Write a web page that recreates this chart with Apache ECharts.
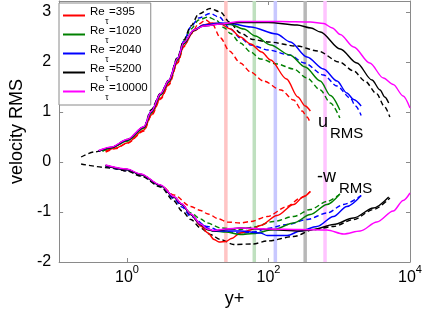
<!DOCTYPE html>
<html><head><meta charset="utf-8">
<script src="https://cdn.jsdelivr.net/npm/echarts@6/dist/echarts.min.js"></script>
<style>html,body{margin:0;padding:0;background:#fff}#c{width:425px;height:323px}</style>
</head><body><div id="c"></div>
<script>
// ---------- data ----------
const reTau = ['395', '1020', '2040', '5200', '10000'];
const lineColors = ['#ff0000', '#008000', '#0000ff', '#000000', '#ff00ff'];
const markColors = ['#ffc4c4', '#bfe0bf', '#c8c8ff', '#b8b8b8', '#ffc4ff'];
const markerYPlus = [25, 63, 125, 330, 630];
const xTickValues = [1, 100, 10000];
const yTickValues = [-2, -1, 0, 1, 2, 3];
const Y_MIN = -2, Y_MAX = 3.22;

// u_RMS, solid
const uSolid395 = [[0.5,0.22],[0.7,0.28],[1.0,0.38],[1.74,0.64],[2.2,0.94],[3.0,1.28],[3.9,1.56],[5.2,2.0],[6.35,2.32],[8.8,2.62],[12,2.74],[16,2.78],[21,2.76],[29,2.66],[40,2.50],[56,2.36],[80,2.20],[107,2.04],[180,1.66],[260,1.30],[330,1.12],[391,1.02]];
const uSolid1020 = [[0.45,0.22],[0.6,0.28],[1.0,0.42],[1.74,0.68],[2.2,0.98],[3.0,1.34],[3.9,1.60],[5.2,2.04],[6.35,2.36],[8.8,2.63],[12,2.73],[21,2.77],[29,2.75],[45,2.66],[65,2.52],[107,2.34],[200,2.14],[330,1.90],[540,1.62],[750,1.33],[1020,1.04]];
const uSolid2040 = [[0.4,0.22],[0.6,0.29],[1.0,0.44],[1.74,0.70],[2.2,1.0],[3.0,1.36],[3.9,1.62],[5.2,2.06],[6.35,2.38],[8.8,2.64],[12,2.74],[21,2.78],[29,2.77],[56,2.70],[130,2.56],[204,2.40],[350,2.10],[600,1.86],[930,1.62],[1280,1.38],[1600,1.25],[2040,1.12]];
const uSolid5200 = [[0.4,0.22],[0.6,0.29],[1.0,0.44],[1.74,0.70],[2.2,1.0],[3.0,1.36],[3.9,1.62],[5.2,2.06],[6.35,2.38],[8.8,2.63],[12,2.72],[21,2.76],[40,2.79],[100,2.79],[254,2.74],[400,2.68],[540,2.60],[1033,2.26],[1774,1.98],[2900,1.64],[3778,1.44],[4400,1.30],[5000,1.18]];
const uSolid10000 = [[0.4,0.23],[0.6,0.30],[1.0,0.45],[1.74,0.71],[2.2,1.01],[3.0,1.37],[3.9,1.63],[5.2,2.07],[6.35,2.39],[8.8,2.64],[12.2,2.72],[21,2.76],[40,2.81],[147,2.81],[391,2.80],[601,2.77],[800,2.68],[1033,2.55],[1600,2.30],[2700,1.98],[4200,1.68],[5800,1.55],[8000,1.32],[10000,1.08]];
// u_RMS, dashed
const uDash395 = [[0.5,0.2],[0.7,0.27],[1.0,0.37],[1.74,0.62],[2.2,0.92],[3.0,1.26],[3.9,1.54],[5.2,1.98],[6.35,2.30],[8.0,2.56],[10.3,2.76],[13,2.84],[16,2.76],[21,2.48],[28,2.22],[40,1.98],[56,1.80],[85,1.62],[150,1.44],[227,1.24],[300,1.02],[350,0.90],[391,0.78]];
const uDash1020 = [[0.45,0.22],[0.6,0.28],[1.0,0.42],[1.74,0.68],[2.2,0.98],[3.0,1.34],[3.9,1.60],[5.2,2.06],[6.35,2.40],[8.0,2.66],[10.3,2.84],[14,2.90],[18,2.84],[24,2.68],[29,2.57],[40,2.38],[56,2.20],[77,2.06],[132,1.96],[227,1.86],[350,1.68],[540,1.44],[750,1.18],[1020,0.88]];
const uDash2040 = [[0.4,0.22],[0.6,0.29],[1.0,0.44],[1.74,0.70],[2.2,1.02],[3.0,1.37],[3.9,1.63],[5.2,2.08],[6.35,2.42],[8.0,2.70],[10.3,2.88],[15,2.97],[20,2.90],[29,2.66],[40,2.48],[56,2.34],[100,2.24],[200,2.14],[320,1.98],[600,1.74],[930,1.52],[1430,1.28],[1700,1.12],[2040,0.93]];
const uDash5200 = [[0.225,0.10],[0.343,0.2],[0.6,0.29],[1.0,0.45],[1.74,0.70],[2.18,1.04],[3.0,1.38],[3.9,1.64],[5.2,2.10],[6.35,2.44],[8.0,2.72],[10.3,2.96],[15,3.07],[21,3.0],[28,2.80],[40,2.58],[60,2.45],[100,2.40],[250,2.32],[500,2.22],[1000,2.0],[1600,1.82],[2300,1.62],[3400,1.36],[4300,1.12],[5200,0.90]];
// -w_RMS, solid
const wSolid395 = [[0.5,-0.07],[1.0,-0.15],[1.57,-0.25],[3.0,-0.47],[4.6,-0.70],[6.0,-0.85],[8.0,-1.05],[11,-1.28],[14,-1.42],[17,-1.55],[20,-1.60],[25,-1.59],[30,-1.53],[40,-1.42],[56,-1.36],[77,-1.27],[132,-1.07],[227,-0.85],[315,-0.69],[391,-0.59]];
const wSolid1020 = [[0.5,-0.07],[1.0,-0.15],[1.57,-0.25],[3.0,-0.47],[4.6,-0.70],[6.0,-0.85],[8.0,-1.05],[11,-1.25],[13.7,-1.35],[16.8,-1.38],[25,-1.40],[40,-1.45],[62,-1.43],[118,-1.35],[227,-1.22],[391,-1.05],[671,-0.85],[1020,-0.64]];
const wSolid2040 = [[0.5,-0.07],[1.0,-0.15],[1.57,-0.25],[3.0,-0.47],[4.6,-0.70],[6.0,-0.85],[8.0,-1.05],[11,-1.25],[16.8,-1.38],[25,-1.38],[40,-1.38],[77,-1.42],[96,-1.47],[184,-1.47],[282,-1.38],[485,-1.29],[830,-1.09],[1280,-0.89],[2040,-0.67]];
const wSolid5200 = [[0.5,-0.07],[1.0,-0.15],[1.57,-0.25],[3.0,-0.47],[4.6,-0.70],[6.0,-0.85],[8.0,-1.05],[11,-1.25],[13.7,-1.35],[16.8,-1.38],[25,-1.35],[40,-1.32],[96,-1.35],[280,-1.38],[435,-1.35],[830,-1.25],[1590,-1.12],[3040,-0.92],[5000,-0.70]];
const wSolid10000 = [[0.5,-0.06],[1.0,-0.14],[1.57,-0.24],[3.0,-0.46],[4.6,-0.69],[6.0,-0.84],[8.0,-1.04],[11,-1.24],[13.7,-1.34],[16.8,-1.37],[25,-1.34],[40,-1.32],[100,-1.34],[280,-1.35],[670,-1.36],[1150,-1.44],[1980,-1.38],[3400,-1.20],[5800,-0.98],[8000,-0.77],[10000,-0.62]];
// -w_RMS, dashed
const wDash395 = [[0.5,-0.09],[1.0,-0.17],[1.57,-0.27],[3.0,-0.47],[4.6,-0.66],[8,-0.89],[11,-0.97],[14,-1.04],[20,-1.14],[26,-1.20],[40,-1.22],[56,-1.19],[96,-1.09],[184,-0.89],[282,-0.72],[391,-0.59]];
const wDash1020 = [[0.5,-0.09],[1.0,-0.17],[1.57,-0.27],[3.0,-0.49],[4.6,-0.72],[6.0,-0.86],[8,-1.02],[11,-1.14],[13.7,-1.22],[21,-1.32],[40,-1.35],[62,-1.30],[118,-1.19],[227,-1.09],[391,-0.95],[671,-0.79],[1020,-0.64]];
const wDash2040 = [[0.5,-0.09],[1.0,-0.17],[1.57,-0.27],[3.0,-0.49],[4.6,-0.73],[6.0,-0.9],[8,-1.09],[13.7,-1.29],[21,-1.38],[40,-1.42],[62,-1.40],[96,-1.33],[184,-1.25],[351,-1.15],[671,-1.02],[1150,-0.85],[2040,-0.67]];
const wDash5200 = [[0.225,-0.04],[0.6,-0.12],[1.0,-0.18],[1.57,-0.28],[3.0,-0.50],[4.6,-0.78],[6.0,-0.98],[8.0,-1.15],[11,-1.32],[15,-1.45],[21,-1.55],[32,-1.65],[60,-1.64],[96,-1.58],[227,-1.49],[435,-1.35],[830,-1.29],[1590,-1.15],[3040,-0.95],[5200,-0.72]];

const uSolid = [uSolid395, uSolid1020, uSolid2040, uSolid5200, uSolid10000];
const uDash = [uDash395, uDash1020, uDash2040, uDash5200];
const wSolid = [wSolid395, wSolid1020, wSolid2040, wSolid5200, wSolid10000];
const wDash = [wDash395, wDash1020, wDash2040, wDash5200];

// ---------- chart ----------
const FONT = '"Liberation Sans", Arial, Helvetica, sans-serif';
const legendNames = reTau.map(r => 'Re' + r);

function mkLine(name, data, color, dashed, z) {
  return {
    type: 'line', name: name, data: data, xAxisIndex: 0, yAxisIndex: 0,
    symbol: 'none', showSymbol: false, smooth: 0.3, smoothMonotone: 'x',
    lineStyle: { color: color, width: 1.4, type: dashed ? [5, 3] : 'solid' },
    itemStyle: { color: color }, z: z
  };
}

const series = [];
// vertical markers spanning the full y range (light colour)
markerYPlus.forEach((v, i) => series.push({
  type: 'line', name: 'marker' + i, xAxisIndex: 0, yAxisIndex: 0, z: 1,
  data: [[v, Y_MIN], [v, Y_MAX]], symbol: 'none', showSymbol: false, silent: true,
  color: markColors[i],
  lineStyle: { color: markColors[i], width: 3.5, type: 'solid', opacity: 1 },
  itemStyle: { color: markColors[i] }
}));
uDash.forEach((d, i) => series.push(mkLine('ud' + i, d, lineColors[i], true, 2)));
wDash.forEach((d, i) => series.push(mkLine('wd' + i, d, lineColors[i], true, 2)));
wSolid.forEach((d, i) => series.push(mkLine(legendNames[i], d, lineColors[i], false, 3)));
uSolid.forEach((d, i) => series.push(mkLine(legendNames[i], d, lineColors[i], false, 3)));

const axisGray = '#8a8a8a';
const chart = echarts.init(document.getElementById('c'), null, { renderer: 'canvas' });
chart.setOption({
  animation: false,
  backgroundColor: '#fff',
  grid: { left: 58, right: 15, top: 1, bottom: 61, containLabel: false },
  legend: {
    data: legendNames, orient: 'vertical', left: 59, top: 3,
    icon: 'rect', itemWidth: 22, itemHeight: 2, itemGap: -1,
    padding: [3, 3, 3, 4],
    borderColor: axisGray, borderWidth: 1, borderRadius: 0, backgroundColor: '#fff',
    selectedMode: false,
    formatter: name => '{a|Re}{s|τ}{a|=' + name.slice(2) + '}',
    textStyle: {
      color: '#000', fontFamily: FONT,
      rich: {
        a: { fontSize: 11.5, padding: [0, 0, 7, 0], fontFamily: FONT, color: '#000' },
        s: { fontSize: 8.5, padding: [12, 0.5, 0, 0.5], fontFamily: FONT, color: '#000' }
      }
    }
  },
  xAxis: [{
    type: 'log', logBase: 10, min: 0.11, max: 10000, position: 'bottom',
    axisLine: { show: true, onZero: false, lineStyle: { color: axisGray, width: 1 } },
    axisTick: { show: true, inside: true, length: 4, customValues: xTickValues, lineStyle: { color: axisGray } },
    minorTick: { show: false }, splitLine: { show: false },
    axisLabel: {
      customValues: xTickValues, margin: 4, color: '#000',
      formatter: v => '{b|10}{e|' + Math.round(Math.log10(v)) + '}',
      rich: {
        b: { fontSize: 16, lineHeight: 16, padding: [7, 0, 0, 0], fontFamily: FONT, color: '#000' },
        e: { fontSize: 11, lineHeight: 11, padding: [0, 0, 9, 0], fontFamily: FONT, color: '#000' }
      }
    },
    name: 'y+', nameLocation: 'middle', nameGap: 17,
    nameTextStyle: { fontSize: 18, color: '#000', fontFamily: FONT }
  }, {
    type: 'log', logBase: 10, min: 0.11, max: 10000, position: 'top',
    axisLine: { show: true, onZero: false, lineStyle: { color: axisGray, width: 1 } },
    axisTick: { show: true, inside: true, length: 4, customValues: xTickValues, lineStyle: { color: axisGray } },
    axisLabel: { show: false }, splitLine: { show: false }, minorTick: { show: false }
  }],
  yAxis: [{
    type: 'value', min: Y_MIN, max: Y_MAX, interval: 1, position: 'left',
    axisLine: { show: true, onZero: false, lineStyle: { color: axisGray, width: 1 } },
    axisTick: { show: true, inside: true, length: 4, customValues: yTickValues, lineStyle: { color: axisGray } },
    axisLabel: { customValues: yTickValues, margin: 8, fontSize: 16, color: '#000', fontFamily: FONT },
    splitLine: { show: false },
    name: 'velocity RMS', nameLocation: 'middle', nameGap: 23,
    nameTextStyle: { fontSize: 18, color: '#000', fontFamily: FONT }
  }, {
    type: 'value', min: Y_MIN, max: Y_MAX, interval: 1, position: 'right',
    axisLine: { show: true, onZero: false, lineStyle: { color: axisGray, width: 1 } },
    axisTick: { show: true, inside: true, length: 4, customValues: yTickValues, lineStyle: { color: axisGray } },
    axisLabel: { show: false }, splitLine: { show: false }
  }],
  graphic: [
    { type: 'text', left: 318, top: 113, z: 10, style: { text: 'u', fontSize: 18, fontFamily: FONT, fill: '#000' } },
    { type: 'text', left: 330, top: 126, z: 10, style: { text: 'RMS', fontSize: 15, fontFamily: FONT, fill: '#000' } },
    { type: 'text', left: 317, top: 168, z: 10, style: { text: '-w', fontSize: 18, fontFamily: FONT, fill: '#000' } },
    { type: 'text', left: 339, top: 181, z: 10, style: { text: 'RMS', fontSize: 15, fontFamily: FONT, fill: '#000' } }
  ],
  series: series
});
</script>
</body></html>
